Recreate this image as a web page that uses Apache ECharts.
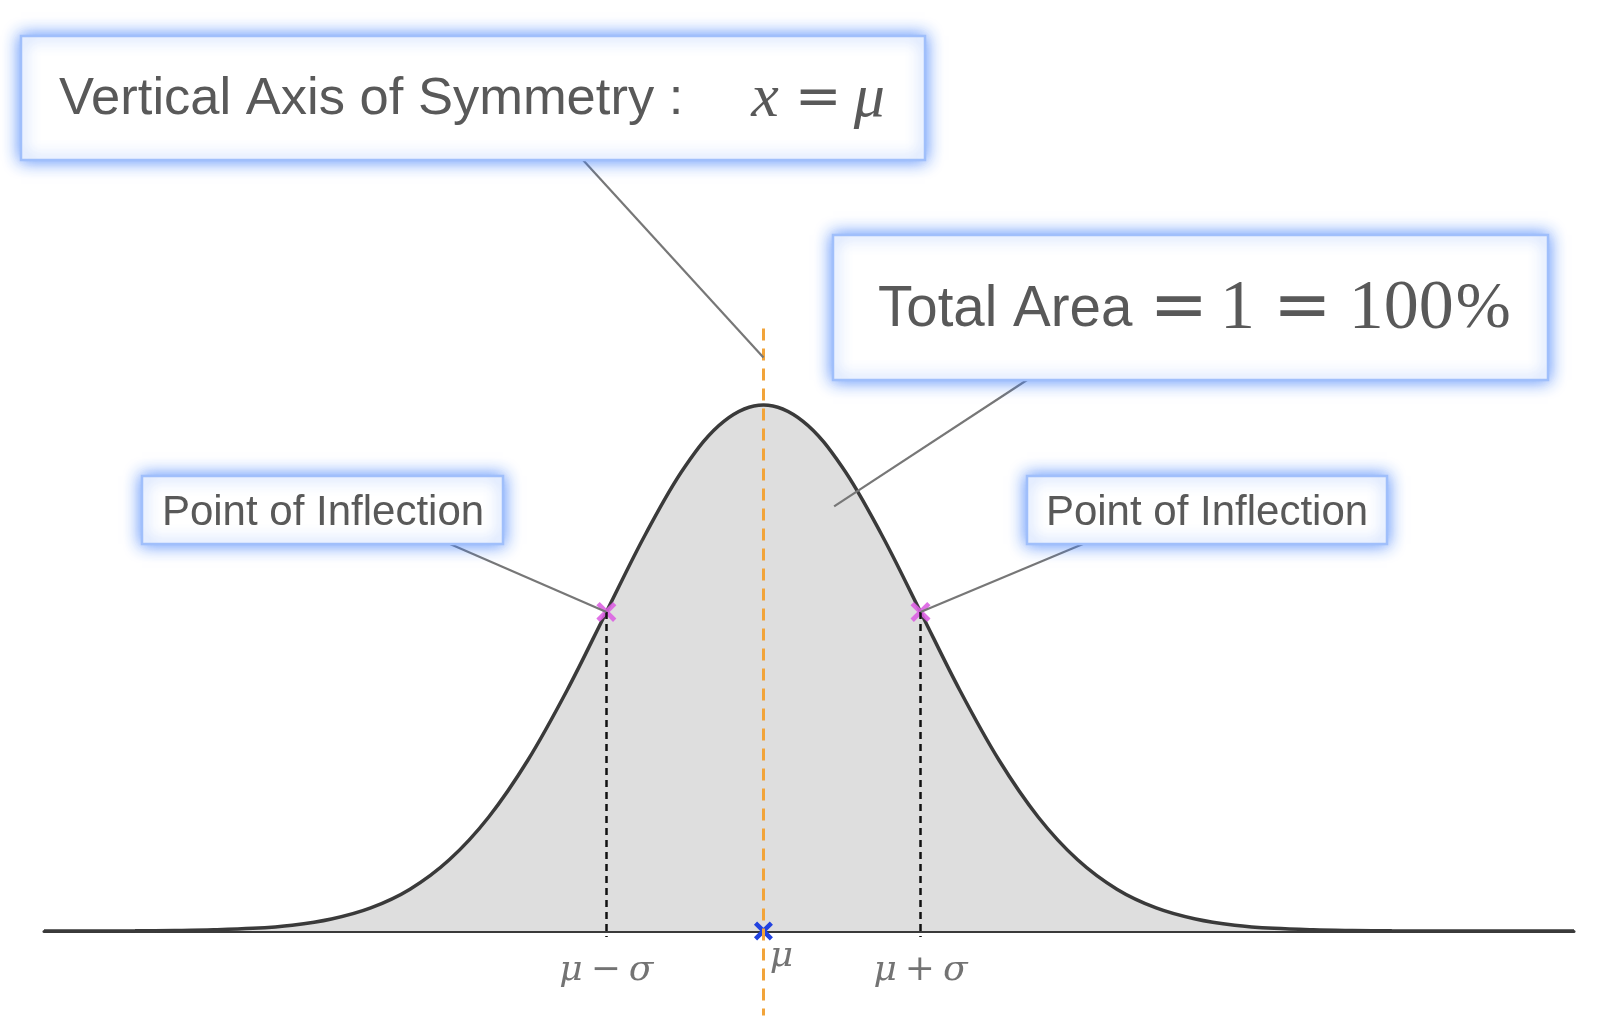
<!DOCTYPE html>
<html>
<head>
<meta charset="utf-8">
<title>Normal distribution</title>
<script src="https://cdn.jsdelivr.net/npm/echarts@6.0.0/dist/echarts.min.js"></script>
<style>
  html, body { margin: 0; padding: 0; background: #fff; }
  #chart { width: 1616px; height: 1032px; }
</style>
</head>
<body>
<div id="chart"></div>
<script>
// curve, x in sigma units around the mean
var curveX = [-4.58, -4.5, -4.0, -3.75, -3.5, -3.25, -3.0, -2.75, -2.5, -2.25, -2.0, -1.75, -1.5, -1.25, -1.0, -0.75, -0.5, -0.25, 0,
  0.25, 0.5, 0.75, 1.0, 1.25, 1.5, 1.75, 2.0, 2.25, 2.5, 2.75, 3.0, 3.25, 3.5, 3.75, 4.0, 4.5, 5.16];
var curveY = [0, 0, 0.0001, 0.0004, 0.0009, 0.0020, 0.0044, 0.0091, 0.0175, 0.0317, 0.0540, 0.0863, 0.1295, 0.1826, 0.2420, 0.3011, 0.3521, 0.3867, 0.3989,
  0.3867, 0.3521, 0.3011, 0.2420, 0.1826, 0.1295, 0.0863, 0.0540, 0.0317, 0.0175, 0.0091, 0.0044, 0.0020, 0.0009, 0.0004, 0.0001, 0, 0];

var inflectionX = [-1, 1];
var inflectionY = [0.242, 0.242];
var meanX = 0;
var tickValues = [-1, 0, 1];
var tickLabels = ['μ − σ', 'μ', 'μ + σ'];
var symmetryTop = 0.457;
var symmetryBottom = -0.064;
var sigmaTickBottom = -0.0046;

// where each leader line lands on the plot (data units)
var noteTargets = [[0, 0.435], [0.45, 0.322], [-1, 0.242], [1, 0.242]];

var SANS = 'Liberation Sans';
var SERIF = 'Liberation Serif';
var TEXT = '#595959';

var xSymbol = 'path://M0,3L3,0L18,15L15,18Z M15,0L18,3L3,18L0,15Z';

let chart = echarts.init(document.getElementById('chart'));

let curveData = curveX.map(function (x, i) { return [x, curveY[i]]; });
let inflectionData = inflectionX.map(function (x, i) { return [x, inflectionY[i]]; });

function mathLabel(s) {
  return s.split(' ').map(function (p) {
    return (p === '−' || p === '+') ? '{o|' + p + '}' : '{m|' + p + '}';
  }).join('{g| }');
}

let guideLines = inflectionX.map(function (x, i) {
  return [{coord: [x, inflectionY[i]]}, {coord: [x, sigmaTickBottom]}];
});
guideLines.push([
  {coord: [meanX, symmetryTop], lineStyle: {color: '#f2a43a', width: 3, type: [12, 8]}},
  {coord: [meanX, symmetryBottom]}
]);

let option = {
  animation: false,
  grid: {left: 44, right: 42, top: 0, bottom: 0},
  xAxis: {
    type: 'value', min: -4.58, max: 5.16,
    axisLine: {show: true, onZero: true, lineStyle: {color: '#3a3a3a', width: 3}},
    axisTick: {show: false}, axisLabel: {show: false}, splitLine: {show: false}
  },
  yAxis: {
    type: 'value', min: -0.0766, max: 0.7061, show: false, splitLine: {show: false}
  },
  series: [
    {
      name: 'curve',
      type: 'line',
      z: 2,
      smooth: 0.35,
      symbol: 'none',
      lineStyle: {color: '#3a3a3a', width: 3.5},
      areaStyle: {color: '#dedede', opacity: 1},
      data: curveData
    },
    {
      name: 'inflection',
      type: 'scatter',
      z: 3,
      symbol: xSymbol,
      symbolSize: 20,
      itemStyle: {color: '#dc62e2', opacity: 0.9},
      data: inflectionData
    },
    {
      name: 'mean',
      type: 'scatter',
      z: 3,
      symbol: xSymbol,
      symbolSize: 19,
      itemStyle: {color: '#2142e0', opacity: 1},
      data: [[meanX, 0]]
    },
    {
      name: 'guides',
      type: 'line',
      z: 4,
      data: [],
      markLine: {
        silent: true,
        symbol: ['none', 'none'],
        label: {show: false},
        lineStyle: {color: '#111', width: 2.5, type: [7, 5]},
        data: guideLines
      }
    },
    {
      name: 'ticks',
      type: 'scatter',
      z: 5,
      symbolSize: 1,
      itemStyle: {color: 'rgba(0,0,0,0)'},
      label: {
        show: true,
        position: 'inside',
        formatter: function (p) { return mathLabel(tickLabels[p.dataIndex]); },
        rich: {
          m: {fontFamily: 'DejaVu Serif', fontStyle: 'italic', fontSize: 36, color: '#505050'},
          o: {fontFamily: 'DejaVu Serif', fontSize: 36, color: '#505050'},
          g: {width: 8}
        }
      },
      data: tickValues.map(function (v) {
        return {value: [v, 0], label: {offset: v === 0 ? [18, 26] : [0, 40]}};
      })
    }
  ]
};
chart.setOption(option);

// annotation boxes, leader line starts on the box edge
let boxes = [
  {x: 21, y: 36, w: 904, h: 124, from: [583, 160], tx: 59, ty: 100, align: 'left',
    text: '{s|Vertical Axis of Symmetry :}{g68| }{mi|x}{g16| }{eq|=}{g12| }{mi|μ}'},
  {x: 833, y: 235, w: 715, h: 145, from: [1027, 380], tx: 878, ty: 310, align: 'left',
    text: '{t|Total Area}{g17| }{eb|=}{g12| }{n|1}{g18| }{eb|=}{g17| }{n|100}{g2| }{np|%}'},
  {x: 142, y: 476, w: 361, h: 68, from: [450, 544], tx: 323, ty: 513, align: 'center',
    text: '{p|Point of Inflection}'},
  {x: 1027, y: 476, w: 360, h: 68, from: [1083, 544], tx: 1207, ty: 513, align: 'center',
    text: '{p|Point of Inflection}'}
];

let rich = {
  s: {fontFamily: SANS, fontSize: 52.5, fill: TEXT},
  t: {fontFamily: SANS, fontSize: 56.5, fill: TEXT},
  p: {fontFamily: SANS, fontSize: 42, fill: TEXT},
  mi: {fontFamily: SERIF, fontStyle: 'italic', fontSize: 62, fill: TEXT},
  eq: {fontFamily: 'DejaVu Sans', fontSize: 56, fill: TEXT},
  eb: {fontFamily: 'DejaVu Sans', fontSize: 70, fill: TEXT},
  n: {fontFamily: SERIF, fontSize: 70, fill: TEXT},
  np: {fontFamily: SERIF, fontSize: 66, fill: TEXT}
};
[68, 16, 12, 17, 18, 2].forEach(function (w) { rich['g' + w] = {width: w}; });

let graphics = [];
boxes.forEach(function (b, i) {
  let to = chart.convertToPixel({gridIndex: 0}, noteTargets[i]);
  graphics.push({
    type: 'line', z: 10,
    shape: {x1: b.from[0], y1: b.from[1], x2: to[0], y2: to[1]},
    style: {stroke: '#777', lineWidth: 2.2}
  });
  graphics.push({
    type: 'rect', z: 11,
    shape: {x: b.x, y: b.y, width: b.w, height: b.h},
    style: {fill: '#fff', stroke: '#a0bffb', lineWidth: 2.5, shadowBlur: 16, shadowColor: 'rgba(70,130,250,0.9)'}
  });
  graphics.push({
    type: 'text', z: 12, x: b.tx, y: b.ty,
    style: {text: b.text, rich: rich, align: b.align, verticalAlign: 'middle', fill: TEXT}
  });
});
chart.setOption({graphic: graphics});
</script>
</body>
</html>
